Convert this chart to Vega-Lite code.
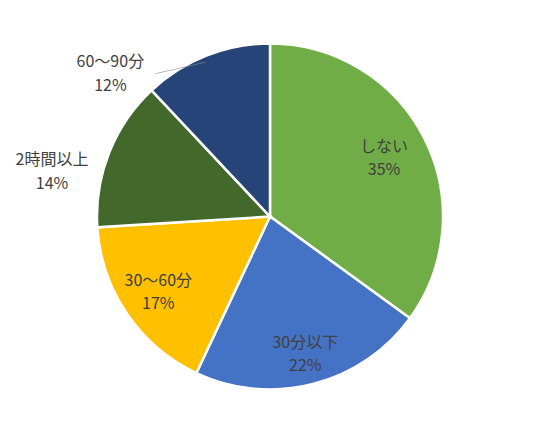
{
  "$schema": "https://vega.github.io/schema/vega-lite/v6.json",
  "autosize": {"type": "none"},
  "width": 540,
  "height": 433,
  "padding": 0,
  "background": "white",
  "view": {"stroke": null},
  "data": {
    "values": [
      {"label": "しない", "value": 0.35},
      {"label": "30分以下", "value": 0.22},
      {"label": "30〜60分", "value": 0.17},
      {"label": "2時間以上", "value": 0.14},
      {"label": "60〜90分", "value": 0.12}
    ]
  },
  "encoding": {
    "theta": {"field": "value", "type": "quantitative", "stack": true},
    "order": {"field": "value", "sort": "descending"}
  },
  "layer": [
    {
      "mark": {"type": "arc", "outerRadius": 173, "stroke": "white", "strokeWidth": 2.5},
      "encoding": {
        "color": {
          "field": "label",
          "type": "nominal",
          "scale": {
            "domain": ["しない", "30分以下", "30〜60分", "2時間以上", "60〜90分"],
            "range": ["#70AD47", "#4472C4", "#FFC000", "#43682B", "#264478"]
          },
          "legend": null
        }
      }
    },
    {
      "mark": {"type": "text", "radius": 179, "dx": -27, "dy": 13, "angle": -13, "font": "Noto Sans CJK JP", "fontSize": 13, "fill": "#8C8C8C"},
      "encoding": {"text": {"condition": {"test": "datum.label === '60〜90分'", "value": "────"}, "value": ""}}
    },
    {
      "mark": {"type": "text", "radius": 128, "dy": -11.5, "font": "Noto Sans CJK JP", "fontSize": 16, "fill": "#404040"},
      "encoding": {"text": {"condition": {"test": "datum.label === 'しない'", "field": "label"}, "value": ""}}
    },
    {
      "mark": {"type": "text", "radius": 128, "dy": 11.5, "font": "Noto Sans CJK JP", "fontSize": 16, "fill": "#404040"},
      "encoding": {"text": {"condition": {"test": "datum.label === 'しない'", "field": "value", "format": ".0%"}, "value": ""}}
    },
    {
      "mark": {"type": "text", "radius": 142, "dy": -11.5, "font": "Noto Sans CJK JP", "fontSize": 16, "fill": "#404040"},
      "encoding": {"text": {"condition": {"test": "datum.label === '30分以下'", "field": "label"}, "value": ""}}
    },
    {
      "mark": {"type": "text", "radius": 142, "dy": 11.5, "font": "Noto Sans CJK JP", "fontSize": 16, "fill": "#404040"},
      "encoding": {"text": {"condition": {"test": "datum.label === '30分以下'", "field": "value", "format": ".0%"}, "value": ""}}
    },
    {
      "mark": {"type": "text", "radius": 135, "dy": -11.5, "font": "Noto Sans CJK JP", "fontSize": 16, "fill": "#404040"},
      "encoding": {"text": {"condition": {"test": "datum.label === '30〜60分'", "field": "label"}, "value": ""}}
    },
    {
      "mark": {"type": "text", "radius": 135, "dy": 11.5, "font": "Noto Sans CJK JP", "fontSize": 16, "fill": "#404040"},
      "encoding": {"text": {"condition": {"test": "datum.label === '30〜60分'", "field": "value", "format": ".0%"}, "value": ""}}
    },
    {
      "mark": {"type": "text", "radius": 200, "dx": -32, "dy": 17, "font": "Noto Sans CJK JP", "fontSize": 16, "fill": "#404040"},
      "encoding": {"text": {"condition": {"test": "datum.label === '2時間以上'", "field": "label"}, "value": ""}}
    },
    {
      "mark": {"type": "text", "radius": 200, "dx": -32, "dy": 41, "font": "Noto Sans CJK JP", "fontSize": 16, "fill": "#404040"},
      "encoding": {"text": {"condition": {"test": "datum.label === '2時間以上'", "field": "value", "format": ".0%"}, "value": ""}}
    },
    {
      "mark": {"type": "text", "radius": 200, "dx": -86, "dy": 31, "font": "Noto Sans CJK JP", "fontSize": 16, "fill": "#404040"},
      "encoding": {"text": {"condition": {"test": "datum.label === '60〜90分'", "field": "label"}, "value": ""}}
    },
    {
      "mark": {"type": "text", "radius": 200, "dx": -86, "dy": 55, "font": "Noto Sans CJK JP", "fontSize": 16, "fill": "#404040"},
      "encoding": {"text": {"condition": {"test": "datum.label === '60〜90分'", "field": "value", "format": ".0%"}, "value": ""}}
    }
  ]
}
